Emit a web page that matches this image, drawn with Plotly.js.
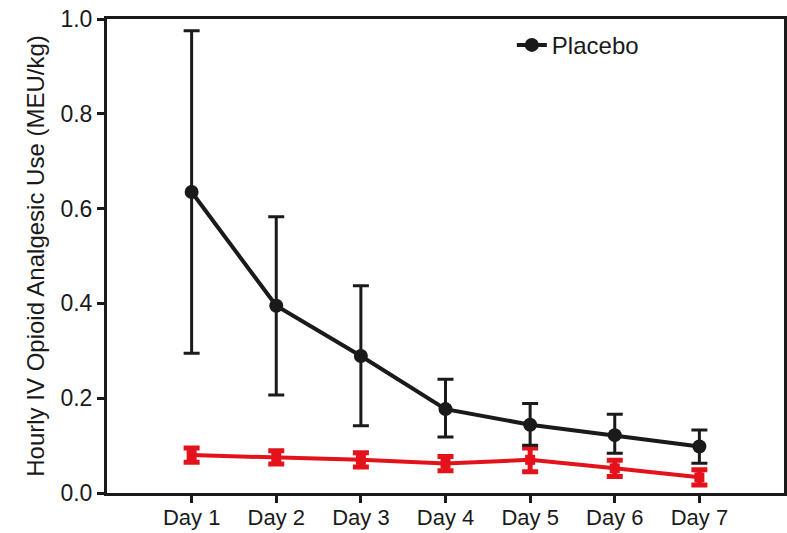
<!DOCTYPE html>
<html>
<head>
<meta charset="utf-8">
<script src="https://cdn.plot.ly/plotly-3.0.1.min.js"></script>
<style>html,body{margin:0;padding:0;background:#fff;}#chart{width:787px;height:533px;}</style>
</head>
<body>
<div id="chart"></div>
<script>
// Data
const days = [1, 2, 3, 4, 5, 6, 7];
const dayLabels = ["Day 1", "Day 2", "Day 3", "Day 4", "Day 5", "Day 6", "Day 7"];

const placeboMean  = [0.635, 0.395, 0.289, 0.177, 0.144, 0.122, 0.098];
const placeboUpper = [0.975, 0.583, 0.437, 0.240, 0.189, 0.166, 0.133];
const placeboLower = [0.295, 0.207, 0.142, 0.118, 0.101, 0.084, 0.063];

const treatMean = [0.080, 0.075, 0.070, 0.062, 0.070, 0.052, 0.033];
const treatErr  = [0.015, 0.014, 0.015, 0.015, 0.025, 0.017, 0.016];

const placeboPlus  = placeboUpper.map((u, i) => u - placeboMean[i]);
const placeboMinus = placeboMean.map((m, i) => m - placeboLower[i]);

const BLACK = "#1a1a1a";
const RED = "#e3121b";
const FONT = "Liberation Sans, Arial, sans-serif";

const traces = [
  {
    x: days, y: treatMean, type: "scatter", mode: "lines+markers",
    name: "Treatment", showlegend: false,
    line: {color: RED, width: 4},
    marker: {color: RED, size: 10, symbol: "square"},
    error_y: {type: "data", array: treatErr, visible: true, color: RED, thickness: 5, width: 8}
  },
  {
    x: days, y: placeboMean, type: "scatter", mode: "lines+markers",
    name: "Placebo",
    line: {color: BLACK, width: 4},
    marker: {color: BLACK, size: 14, symbol: "circle"},
    error_y: {type: "data", symmetric: false, array: placeboPlus, arrayminus: placeboMinus,
              visible: true, color: BLACK, thickness: 3, width: 8}
  }
];

const layout = {
  width: 787, height: 533,
  margin: {l: 107, r: 3, t: 19, b: 40},
  paper_bgcolor: "#fff", plot_bgcolor: "#fff",
  font: {family: FONT, size: 22, color: BLACK},
  showlegend: true,
  legend: {x: 0.598, y: 0.992, xanchor: "left", yanchor: "top",
           font: {family: FONT, size: 24, color: BLACK}, bgcolor: "rgba(0,0,0,0)"},
  xaxis: {
    range: [0, 8], tickmode: "array", tickvals: days, ticktext: dayLabels,
    showgrid: false, zeroline: false, showline: true, mirror: true,
    linecolor: BLACK, linewidth: 3, ticks: "outside", ticklen: 7, tickwidth: 3, tickcolor: BLACK,
    ticklabelstandoff: -4,
    tickfont: {family: FONT, size: 22, color: BLACK}
  },
  yaxis: {
    range: [0, 1.0], tickmode: "array", tickvals: [0, 0.2, 0.4, 0.6, 0.8, 1.0],
    ticktext: ["0.0", "0.2", "0.4", "0.6", "0.8", "1.0"],
    showgrid: false, zeroline: false, showline: true, mirror: true,
    linecolor: BLACK, linewidth: 3, ticks: "outside", ticklen: 7, tickwidth: 3, tickcolor: BLACK,
    tickfont: {family: FONT, size: 23, color: BLACK},
    title: {text: "Hourly IV Opioid Analgesic Use (MEU/kg)", font: {family: FONT, size: 24, color: BLACK}, standoff: 10}
  }
};

Plotly.newPlot("chart", traces, layout, {displayModeBar: false, staticPlot: true});
</script>
</body>
</html>
